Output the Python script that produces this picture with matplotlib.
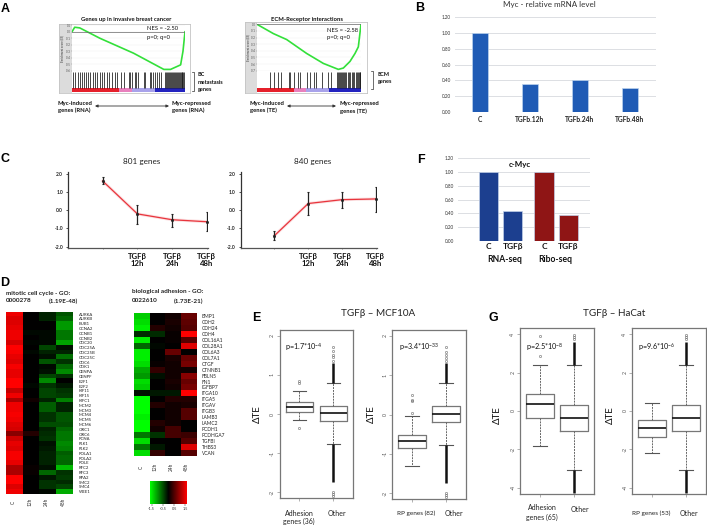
import matplotlib
matplotlib.use("Agg")
import matplotlib.pyplot as plt
from matplotlib.colors import LinearSegmentedColormap
import numpy as np

W, H = 707, 525
plt.rcParams['font.family'] = ['Lato', 'DejaVu Sans']
plt.rcParams['mathtext.default'] = 'regular'

# Panel A - enrichment curves (rank, enrichment score)
bc_rank = [0, 8, 23, 83, 183, 273, 293, 323, 330, 336]
bc_es = [0, 0.07, 0.06, -0.10, -0.33, -0.58, -0.58, -0.51, -0.30, 0]
bc_hits = [3, 9, 17, 23, 29, 35, 41, 49, 55, 61, 68, 75, 83, 88, 95, 103, 111, 118,
           128, 135, 145, 155, 168, 173, 178, 188, 191, 195, 213, 217, 231, 235, 241,
           247, 253, 258, 265, 278, 280, 283, 286, 289, 291, 294, 297, 300, 303, 306,
           309, 312, 315, 318, 321, 323, 326, 328, 331, 333, 335]
ecm_rank = [0, 49, 89, 149, 199, 244, 259, 279, 294, 304, 312]
ecm_es = [0, -0.14, -0.23, -0.44, -0.59, -0.68, -0.66, -0.56, -0.44, -0.34, 0]
ecm_hits = [38, 50, 62, 72, 95, 100, 112, 122, 128, 150, 160, 170, 178, 195, 213, 222,
            240, 243, 246, 249, 252, 255, 258, 261, 264, 267, 272, 276, 280, 284, 288,
            292, 296, 299, 302, 305, 308, 310]
bc_strip = [140, 38, 70, 88]
ecm_strip = [112, 35, 68, 97]
strip_colors = ['#e5202b', '#e880bd', '#a8a2ea', '#2323bf']

# Panel B
myc_labels = ['C', 'TGFb.12h', 'TGFb.24h', 'TGFb.48h']
myc_values = [1.00, 0.36, 0.41, 0.31]

# Panel C
time_labels = ['', 'TGFβ\n12h', 'TGFβ\n24h', 'TGFβ\n48h']
down_mean = [1.60, -0.20, -0.52, -0.63]
down_low = [1.45, -0.73, -0.90, -1.15]
down_high = [1.83, 0.31, -0.20, -0.12]
up_mean = [-1.39, 0.37, 0.58, 0.62]
up_low = [-1.62, -0.24, 0.10, -0.09]
up_high = [-1.16, 0.98, 1.01, 1.28]

# Panel D
heat_cols = ['C', '12h', '24h', '48h']
mitotic_genes = ['AURKA', 'AURKB', 'BUB1', 'CCNA2', 'CCNB1', 'CCNB2', 'CDC20', 'CDC25A',
                 'CDC25B', 'CDC25C', 'CDC6', 'CDK1', 'CENPA', 'CENPF', 'E2F1', 'E2F2',
                 'KIF11', 'KIF15', 'KIFC1', 'MCM2', 'MCM3', 'MCM4', 'MCM5', 'MCM6',
                 'ORC1', 'ORC6', 'PCNA', 'PLK1', 'PLK2', 'POLA1', 'POLA2', 'POLE',
                 'RFC2', 'RFC3', 'RPA2', 'SMC2', 'SMC4', 'WEE1']
mitotic_values = [
    [1.4, 0, -.2, -.5], [1.3, 0, -.2, -.6], [1.3, 0, 0, -.9], [1.35, 0, 0, -.9],
    [1.4, -.05, -.05, -.7], [1.4, 0, -.05, -.7], [1.25, -.03, -.05, -.95],
    [1.5, 0, -.4, -.1], [1.45, -.05, -.2, -.2], [1.35, 0, -.1, -.65], [1.3, 0, -.5, -.3],
    [1.45, 0, -.05, -.6], [1.35, 0, -.1, -.8], [1.35, 0, -.4, -.3], [1.5, 0, -.8, 0],
    [1.5, -.05, -.3, -.15], [1.15, 0, -.4, -.3], [1.4, 0, -.4, -.35], [1.0, .1, -.2, -.75],
    [1.4, 0, -.55, -.2], [1.4, 0, -.55, -.2], [1.45, 0, -.3, -.5], [1.4, 0, -.3, -.5],
    [1.3, 0, -.45, -.45], [1.25, 0, -.2, -.6], [.8, .2, -.25, -.7], [1.2, 0, -.3, -.7],
    [1.35, 0, -.1, -.8], [1.3, 0, -.15, -.75], [1.45, 0, -.2, -.55], [1.45, 0, -.2, -.6],
    [1.35, 0, -.2, -.6], [1.0, .05, -.1, -1.1], [1.0, .05, -.6, -.3], [1.5, 0, -.15, -.35],
    [1.5, 0, -.3, -.25], [1.3, 0, -.3, -.4], [1.4, 0, -.05, -1.0]]
adhesion_genes = ['BMP1', 'CDH2', 'CDH24', 'CDH4', 'COL16A1', 'COL28A1', 'COL6A3', 'COL7A1',
                  'CTGF', 'CTNNB1', 'FBLN5', 'FN1', 'IGFBP7', 'ITGA10', 'ITGA5', 'ITGAV',
                  'ITGB3', 'LAMB3', 'LAMC2', 'PCDH1', 'PCDHGA7', 'TGFBI', 'THBS3', 'VCAN']
adhesion_values = [
    [-1.2, 0, .1, .6], [-1.3, 0, .15, .55], [-1.4, .2, .1, .5], [-.25, -.25, .05, 1.5],
    [-1.4, 0, .05, .5], [-.6, -.05, 0, 1.3], [-1.4, 0, .6, 0], [-1.4, 0, .15, .6],
    [-1.3, .05, .1, .7], [-1.0, .3, .1, .1], [-.9, -.1, .1, .8], [-1.3, 0, .15, .6],
    [-1.2, 0, .1, .7], [-.1, -.15, -.15, 1.5], [-1.5, 0, .2, .2], [-1.5, .2, .1, .15],
    [-1.5, 0, .1, .5], [-1.4, 0, .1, .5], [-1.5, .2, .1, 0], [-1.5, .1, .4, 0],
    [-.7, -.3, .4, .35], [-1.3, 0, 0, .5], [-.7, -.15, 0, 1.3], [-1.3, .3, 0, .5]]
scale_ticks = [-1.5, -0.5, 0.5, 1.5]

# Panel F
cmyc_labels = ['C', 'TGFβ', 'C', 'TGFβ']
cmyc_values = [1.00, 0.44, 1.00, 0.38]

# Panels E and G - box statistics: (q1, median, q3, whisker low, whisker high)
e_adhesion = (0.05, 0.18, 0.31, -0.16, 0.60)
e_adhesion_out = [0.80, 0.84, -0.35]
e_other = (-0.19, 0.02, 0.21, -0.78, 0.80)
e_other_out = [1.35, 1.45, 1.52, 1.60, 1.72, -2.00, -2.05, -2.10]
e_other_dense = [(-1.75, -0.78), (0.80, 1.30)]
e_rp = (-0.85, -0.68, -0.52, -1.31, -0.05)
e_rp_out = [0.03, 0.34, 0.38, 0.50]
g_adhesion = (-0.35, 0.37, 0.90, -1.83, 2.38)
g_adhesion_out = [2.85, 3.90]
g_other = (-1.05, -0.37, 0.33, -3.10, 2.38)
g_other_out = [3.75, 3.85, 3.95]
g_other_dense = [(-4.30, -3.10), (2.40, 3.60)]
g_rp = (-1.38, -0.90, -0.47, -2.17, 0.42)
g_rp_out = []

fig = plt.figure(figsize=(W / 100, H / 100), dpi=100)


def px_axes(x0, y0, x1, y1):
    return fig.add_axes([x0 / W, 1 - y1 / H, (x1 - x0) / W, (y1 - y0) / H])


def put(x, y, s, size=6, weight='normal', ha='left', color='#111111', **kw):
    fig.text(x / W, 1 - y / H, s, fontsize=size, fontweight=weight, ha=ha, va='center',
             color=color, **kw)


def gsea_panel(box, curve_box, rank, es, hits, strip, ylim, yticks, max_rank):
    # grey frame behind the curve and the hit ticks
    bg = px_axes(*box)
    bg.set_xticks([])
    bg.set_yticks([])
    bg.set_facecolor('white')
    left = (curve_box[0] - box[0]) / (box[2] - box[0])
    bg.axvspan(0, left, color='#dcdcdc', lw=0)
    bg.set_xlim(0, 1)
    for s in bg.spines.values():
        s.set_color('#c4c4c4')
        s.set_linewidth(0.6)

    ax = px_axes(*curve_box)
    ax.patch.set_alpha(0)
    ax.plot(rank, es, color='#33e03a', lw=1.2)
    ax.axhline(0, color='#666666', lw=0.5)
    ax.set_xlim(0, max_rank)
    ax.set_ylim(*ylim)
    ax.set_xticks([])
    ax.set_yticks(yticks)
    ax.set_yticklabels([f'{t:.1f}' for t in yticks], fontsize=2, color='#444444')
    ax.tick_params(length=0.8, width=0.3, pad=0.4, color='#888888')
    ax.grid(axis='y', color='#eeeeee', lw=0.3)
    for s in ax.spines.values():
        s.set_visible(False)
    ax.text((box[0] + 3.2 - curve_box[0]) / (curve_box[2] - curve_box[0]), 0.5,
            'Enrichment score (ES)', rotation=90, fontsize=2, ha='center',
            va='center', transform=ax.transAxes, color='#333333')

    ax2 = px_axes(curve_box[0], curve_box[3] + 1, curve_box[2], box[3] - 1)
    ax2.vlines(hits, 0.18, 1, color='#151515', lw=0.55)
    left_edge = 0
    for w, c in zip(strip, strip_colors):
        ax2.barh(0.09, w, left=left_edge, height=0.18, color=c, lw=0)
        left_edge += w
    ax2.set_xlim(0, max_rank)
    ax2.set_ylim(0, 1)
    ax2.axis('off')


def arrow(x0, x1, y):
    fig.add_artist(plt.Annotation('', xy=(x1 / W, 1 - y / H), xytext=(x0 / W, 1 - y / H),
                                  xycoords='figure fraction', textcoords='figure fraction',
                                  arrowprops=dict(arrowstyle='<|-|>', color='#333333', lw=0.6,
                                                  mutation_scale=4, shrinkA=0, shrinkB=0)))


def bracket(x, y0, y1):
    fig.add_artist(plt.Line2D([(x - 2) / W, x / W, x / W, (x - 2) / W],
                              [1 - y0 / H, 1 - y0 / H, 1 - y1 / H, 1 - y1 / H],
                              color='#333333', lw=0.5))


def bar_panel(ax, xs, values, colors, edge, width):
    ax.bar(xs, values, width=width, color=colors, edgecolor=edge, lw=0.5, zorder=3)
    ax.set_ylim(0, 1.2)
    ax.set_yticks(np.arange(0, 1.21, 0.2))
    ax.set_yticklabels([f'{t:.2f}' for t in np.arange(0, 1.21, 0.2)], fontsize=3.3,
                       color='#333333')
    ax.tick_params(length=0, pad=3)
    ax.grid(axis='y', color='#dcdfe3', lw=0.7, zorder=0)
    ax.set_facecolor('none')
    for s in ax.spines.values():
        s.set_visible(False)


def trend_panel(ax, means, low, high):
    xs = np.arange(4)
    ax.plot(xs, means, color='#e8343c', lw=0.9, zorder=2)
    ax.plot(xs, means, color='#f4a8ab', lw=2.2, alpha=0.35, zorder=1)
    ax.vlines(xs, low, high, color='#222222', lw=0.9, zorder=3)
    ax.hlines(low, xs - 0.03, xs + 0.03, color='#222222', lw=0.8, zorder=3)
    ax.hlines(high, xs - 0.03, xs + 0.03, color='#222222', lw=0.8, zorder=3)
    ax.plot(xs, means, ls='', marker='s', ms=1, color='#222222', zorder=4)
    ax.set_xlim(-1, 3.02)
    ax.set_ylim(-2.07, 2.07)
    ax.set_yticks([-2, -1, 0, 1, 2])
    ax.set_yticklabels(['-2.0', '-1.0', '0.0', '1.0', '2.0'], fontsize=3.5, fontweight='bold',
                       color='#222222')
    ax.set_xticks(xs)
    ax.set_xticklabels(time_labels, fontsize=5.6, fontweight='bold', color='#111111',
                       linespacing=1.1)
    ax.tick_params(axis='y', length=1.5, width=0.6, pad=2, color='#333333')
    ax.tick_params(axis='x', length=1, width=0.5, pad=2.5, color='#666666')
    ax.spines['top'].set_visible(False)
    ax.spines['right'].set_visible(False)
    ax.spines['left'].set_color('#333333')
    ax.spines['bottom'].set_color('#555555')
    ax.spines['left'].set_linewidth(0.9)
    ax.spines['bottom'].set_linewidth(0.9)


heat_cmap = LinearSegmentedColormap.from_list('gbr', ['#00ff00', '#000000', '#ff0000'])


def heat_panel(ax, values, genes, label_x, fontsize):
    ax.imshow(np.array(values), cmap=heat_cmap, vmin=-1.5, vmax=1.5, aspect='auto',
              interpolation='nearest')
    ax.set_xticks([])
    ax.yaxis.tick_right()
    ax.set_yticks(range(len(genes)))
    ax.set_yticklabels(genes, fontsize=fontsize, color='#222222')
    ax.tick_params(axis='y', length=0, pad=label_x)
    for s in ax.spines.values():
        s.set_visible(False)


def box_panel(ax, stats, outliers, dense, ylim, yticks):
    bxp_stats = []
    for st, out in zip(stats, outliers):
        bxp_stats.append(dict(q1=st[0], med=st[1], q3=st[2], whislo=st[3], whishi=st[4],
                              fliers=out))
    ax.bxp(bxp_stats, positions=[1, 2], widths=0.8,
           boxprops=dict(color='#777777', lw=0.9),
           medianprops=dict(color='#111111', lw=1.2),
           whiskerprops=dict(color='#666666', lw=0.7, ls=(0, (2, 1))),
           capprops=dict(color='#555555', lw=0.8),
           flierprops=dict(marker='o', ms=1.6, mfc='none', mec='#666666', mew=0.4))
    for lo, hi in dense:
        ax.vlines(2, lo, hi, color='#111111', lw=1.8)
    ax.set_xlim(0.42, 2.59)
    ax.set_ylim(*ylim)
    ax.set_yticks(yticks)
    ax.set_yticklabels([str(t) for t in yticks], rotation=90, va='center', fontsize=3.8,
                       color='#555555')
    ax.set_xticks([1, 2])
    ax.set_xticklabels(['', ''])
    ax.tick_params(length=2, width=0.4, pad=1.5, color='#777777')
    for s in ax.spines.values():
        s.set_color('#777777')
        s.set_linewidth(0.9)


# Panel letters
for letter, lx, ly in [('A', 5, 9), ('B', 420, 8), ('C', 5, 159), ('D', 5, 283),
                       ('E', 256, 318), ('F', 421, 160), ('G', 493, 318)]:
    put(lx, ly, letter, size=9, weight='bold', ha='center', color='black',
        family=['Liberation Sans'])

# Panel A
gsea_panel((59, 24, 190, 93), (72, 25.3, 185, 70.7), bc_rank, bc_es, bc_hits, bc_strip,
           (-0.6, 0.1), [-0.6, -0.5, -0.4, -0.3, -0.2, -0.1, 0.0, 0.1], 336)
gsea_panel((245, 22, 367, 93), (257, 24.3, 361, 70.7), ecm_rank, ecm_es, ecm_hits, ecm_strip,
           (-0.7, 0.0), [-0.7, -0.6, -0.5, -0.4, -0.3, -0.2, -0.1, 0.0], 312)
put(126, 20, 'Genes up in invasive breast cancer', size=4.2, weight='bold', ha='center')
put(307, 19, 'ECM-Receptor interactions', size=4.2, weight='bold', ha='center')
put(147, 29, 'NES = -2.50', size=4.2)
put(147, 37, 'p=0; q=0', size=4.2)
put(327, 31, 'NES = -2.58', size=4.2)
put(327, 38, 'p=0; q=0', size=4.2)
bracket(194, 72, 91)
bracket(373, 71, 89)
put(198, 75, 'BC', size=4, weight='bold')
put(198, 82, 'metastasis', size=4, weight='bold')
put(198, 89, 'genes', size=4, weight='bold')
put(378, 74, 'ECM', size=4, weight='bold')
put(378, 81, 'genes', size=4, weight='bold')
put(58, 103, 'Myc-induced', size=4.2, weight='bold')
put(58, 110, 'genes (RNA)', size=4.2, weight='bold')
put(172, 103, 'Myc-repressed', size=4.2, weight='bold')
put(172, 110, 'genes (RNA)', size=4.2, weight='bold')
put(250, 103, 'Myc-induced', size=4.2, weight='bold')
put(250, 110, 'genes (TE)', size=4.2, weight='bold')
put(340, 103, 'Myc-repressed', size=4.2, weight='bold')
put(340, 111, 'genes (TE)', size=4.2, weight='bold')
arrow(95, 169, 106)
arrow(287, 336, 106)

# Panel B
ax_b = px_axes(455, 17.3, 656, 112)
bar_panel(ax_b, np.arange(4), myc_values, '#1f5bb5', '#bcd3ee', 0.32)
ax_b.set_xlim(-0.5, 3.52)
ax_b.set_xticks(np.arange(4))
ax_b.set_xticklabels(myc_labels, fontsize=4.8, fontweight='bold', color='#222222')
put(549, 5, 'Myc - relative mRNA level', size=5.8, ha='center', color='#333333')

# Panel C
ax_c1 = px_axes(68, 172.5, 207.5, 248)
trend_panel(ax_c1, down_mean, down_low, down_high)
ax_c2 = px_axes(240.7, 172.5, 376.5, 248)
trend_panel(ax_c2, up_mean, up_low, up_high)
put(142, 162, '801 genes', size=5.9, ha='center', color='#222222')
put(313, 162, '840 genes', size=5.9, ha='center', color='#222222')

# Panel D
ax_d1 = px_axes(6, 311.7, 73, 494)
heat_panel(ax_d1, mitotic_values, mitotic_genes, 4, 3.1)
ax_d2 = px_axes(134, 313, 197, 456)
heat_panel(ax_d2, adhesion_values, adhesion_genes, 3.5, 3.5)
put(6, 293, 'mitotic cell cycle - GO:', size=4.6, weight='bold', color='#222222')
put(6, 301, '0000278', size=4.6, weight='bold', color='#222222')
put(49, 301, '(1.19E-48)', size=4.6, weight='bold', color='#222222')
put(132, 292, 'biological adhesion - GO:', size=4.6, weight='bold', color='#222222')
put(132, 301, '0022610', size=4.6, weight='bold', color='#222222')
put(174, 301, '(1.73E-21)', size=4.6, weight='bold', color='#222222')
for name, lx in zip(heat_cols, [13, 30, 46, 63]):
    put(lx, 502, name, size=3.4, ha='center', rotation=90, color='#333333')
for name, lx in zip(heat_cols, [141, 155, 171, 186]):
    put(lx, 467, name, size=3.4, ha='center', rotation=90, color='#333333')
ax_scale = px_axes(150, 481, 187, 504)
ax_scale.imshow(np.linspace(-1.5, 1.5, 128).reshape(1, -1), cmap=heat_cmap, aspect='auto',
                extent=[-1.65, 1.65, 0, 1])
ax_scale.set_yticks([])
ax_scale.set_xticks(scale_ticks)
ax_scale.set_xticklabels([str(t) for t in scale_ticks], fontsize=2.8, color='#333333')
ax_scale.tick_params(length=1.2, width=0.3, pad=1)
for s in ax_scale.spines.values():
    s.set_visible(False)

# Panel F
ax_f = px_axes(458, 158, 590, 241)
bar_panel(ax_f, [0, 1, 2.3, 3.3], cmyc_values, ['#1c3f8f', '#1c3f8f', '#8f1515', '#8f1515'],
          '#c0cfe8', 0.8)
ax_f.set_xlim(-1.27, 4.2)
ax_f.set_xticks([0, 1, 2.3, 3.3])
ax_f.set_xticklabels(cmyc_labels, fontsize=6, fontweight='bold', color='#111111')
ax_f.tick_params(axis='x', pad=1.5)
put(520, 165, 'c-Myc', size=5.7, weight='bold', ha='center')
put(505, 259, 'RNA-seq', size=6.2, weight='bold', ha='center')
put(555, 259, 'Ribo-seq', size=6.2, weight='bold', ha='center')

# Panel E
e_ticks = [-2, -1, 0, 1, 2]
ax_e1 = px_axes(279.7, 330, 353.3, 498)
box_panel(ax_e1, [e_adhesion, e_other], [e_adhesion_out, e_other_out],
          e_other_dense, (-2.15, 2.15), e_ticks)
ax_e2 = px_axes(392.3, 330, 466, 499)
box_panel(ax_e2, [e_rp, e_other], [e_rp_out, e_other_out],
          e_other_dense, (-2.15, 2.15), e_ticks)
put(378, 314, 'TGFβ – MCF10A', size=7.1, ha='center', color='#222222')
put(257, 414, 'ΔTE', size=7, ha='center', rotation=90)
put(371, 414, 'ΔTE', size=7, ha='center', rotation=90)
put(285, 347, 'p=1.7*10$^{-4}$', size=5.2)
put(399, 347, 'p=3.4*10$^{-33}$', size=5.2)
put(299, 513, 'Adhesion', size=5, ha='center', color='#222222')
put(299, 521, 'genes (36)', size=5, ha='center', color='#222222')
put(337, 514, 'Other', size=5, ha='center', color='#222222')
put(416, 513, 'RP genes (82)', size=4.6, ha='center', color='#222222')
put(454, 513, 'Other', size=5, ha='center', color='#222222')

# Panel G
g_ticks = [-4, -2, 0, 2, 4]
ax_g1 = px_axes(520.3, 327.7, 594, 494.3)
box_panel(ax_g1, [g_adhesion, g_other], [g_adhesion_out, g_other_out],
          g_other_dense, (-4.35, 4.35), g_ticks)
ax_g2 = px_axes(632.3, 327.7, 706, 494.3)
box_panel(ax_g2, [g_rp, g_other], [g_rp_out, g_other_out],
          g_other_dense, (-4.35, 4.35), g_ticks)
put(614, 314, 'TGFβ – HaCat', size=7.1, ha='center', color='#222222')
put(497, 415, 'ΔTE', size=7, ha='center', rotation=90)
put(610, 415, 'ΔTE', size=7, ha='center', rotation=90)
put(526, 347, 'p=2.5*10$^{-8}$', size=5.2)
put(638, 347, 'p=9.6*10$^{-6}$', size=5.2)
put(542, 508, 'Adhesion', size=5, ha='center', color='#222222')
put(542, 517, 'genes (65)', size=5, ha='center', color='#222222')
put(580, 509, 'Other', size=5, ha='center', color='#222222')
put(651, 513, 'RP genes (53)', size=4.6, ha='center', color='#222222')
put(689, 513, 'Other', size=5, ha='center', color='#222222')

fig.savefig('out.png', dpi=100)
